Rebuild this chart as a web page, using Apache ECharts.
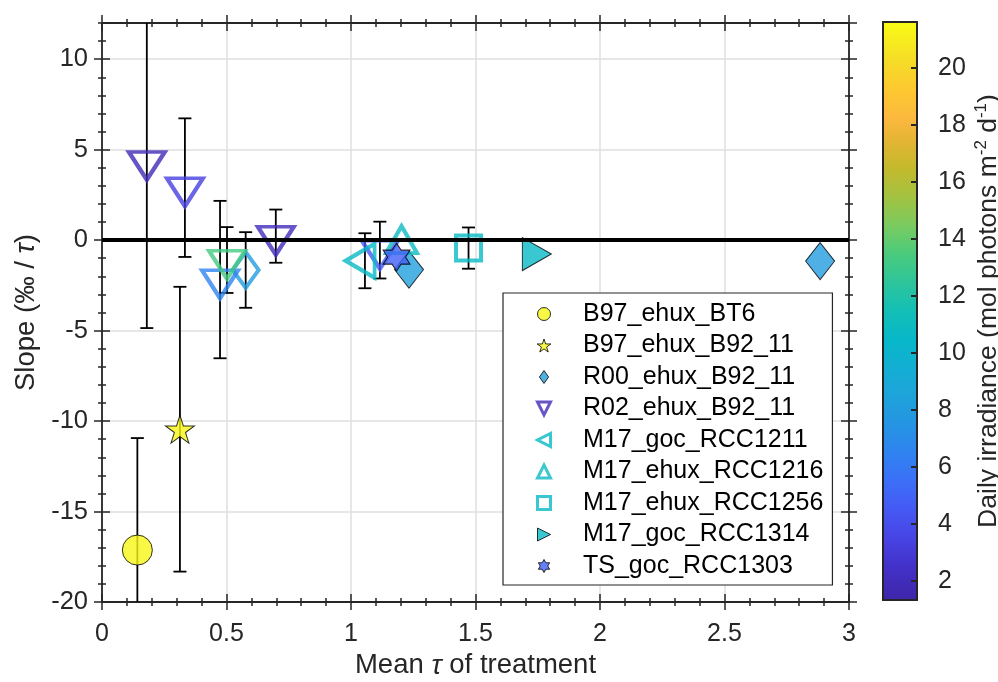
<!DOCTYPE html>
<html>
<head>
<meta charset="utf-8">
<script src="https://cdn.jsdelivr.net/npm/echarts@6/dist/echarts.min.js"></script>
<style>
  html, body { margin: 0; padding: 0; background: #fff; }
  #chart { width: 998px; height: 682px; }
</style>
</head>
<body>
<div id="chart"></div>
<script>
// ---- values ----
const seriesNames = ['B97_ehux_BT6', 'B97_ehux_B92_11', 'R00_ehux_B92_11', 'R02_ehux_B92_11',
  'M17_goc_RCC1211', 'M17_ehux_RCC1216', 'M17_ehux_RCC1256', 'M17_goc_RCC1314', 'TS_goc_RCC1303']

// one entry per point: which series, mean tau, slope, error half-width, daily irradiance, open symbol
const ptSeries = [0, 1, 2, 2, 2, 3, 3, 3, 3, 3, 3, 4, 5, 6, 7, 8]
const ptTau    = [0.142, 0.313, 0.577, 1.233, 2.884, 0.180, 0.333, 0.474, 0.502, 0.698, 1.116, 1.056, 1.203, 1.472, 1.727, 1.183]
const ptSlope  = [-17.13, -10.45, -1.65, -1.63, -1.16, 4.36, 2.90, -2.18, -1.10, 0.22, -0.55, -1.14, -0.22, -0.44, -0.77, -0.94]
const ptErr    = [6.19, 7.87, 2.09, null, null, 9.22, 3.83, 4.35, 1.82, 1.47, 1.57, 1.52, null, 1.14, null, null]
const ptIrr    = [21.4, 21.4, 8.0, 8.2, 8.0, 1.8, 3.3, 6.5, 13.3, 2.0, 4.5, 10.6, 10.8, 10.6, 10.6, 4.8]
const ptOpen   = [0, 0, 1, 0, 0, 1, 1, 1, 1, 1, 1, 1, 1, 1, 0, 0]

const xRange = [0, 3]
const yRange = [-20, 12]
const cbRange = [1.33, 21.61]
const cbTicks = [2, 4, 6, 8, 10, 12, 14, 16, 18, 20]

// parula-like colour scale sampled from the colour bar
const cmapVals = [1.33, 2.5, 3.5, 4.5, 5.5, 6.5, 7.5, 8.5, 9.5, 10.5, 11.5, 12.5, 13.5, 14.5, 15.5, 16.5, 17.5, 18.2, 19.2, 20.2, 21.61]
const cmapCols = ['#3e26a8', '#4331c9', '#4744e4', '#4559f3', '#3c6ff8', '#2f83f0', '#2595e3', '#1ea3da', '#13afd3',
  '#07b8c8', '#14bfb5', '#2ec59a', '#4bcb7c', '#7ccb5f', '#a4c240', '#c4b92c', '#e6b535', '#fbb83f', '#fdc830',
  '#f5db28', '#f9fb14']

const AX = '#262626'
const FONT = "'Liberation Sans', Arial, Helvetica, sans-serif"

function hex2rgb(h) { return [1, 3, 5].map(i => parseInt(h.slice(i, i + 2), 16)) }
function parula(v) {
  if (v <= cmapVals[0]) return cmapCols[0]
  for (let i = 1; i < cmapVals.length; i++) {
    if (v <= cmapVals[i]) {
      const t = (v - cmapVals[i - 1]) / (cmapVals[i] - cmapVals[i - 1])
      const a = hex2rgb(cmapCols[i - 1]), b = hex2rgb(cmapCols[i])
      return 'rgb(' + a.map((c, k) => Math.round(c + (b[k] - c) * t)).join(',') + ')'
    }
  }
  return cmapCols[cmapCols.length - 1]
}

// marker shapes (MATLAB triangles sit on their centroid, hence the offsets)
const STAR5 = 'path://M0,-1L0.2245,-0.309L0.951,-0.309L0.363,0.118L0.588,0.809L0,0.382L-0.588,0.809L-0.363,0.118L-0.951,-0.309L-0.2245,-0.309Z'
const HEX = 'path://M0,-1L0.289,-0.5L0.866,-0.5L0.577,0L0.866,0.5L0.289,0.5L0,1L-0.289,0.5L-0.866,0.5L-0.577,0L-0.866,-0.5L-0.289,-0.5Z'
const DOWN = 'path://M-1,-1L1,-1L0,1Z'
const UP = 'path://M0,-1L1,1L-1,1Z'
const LEFT = 'path://M1,-1L1,1L-1,0Z'
const RIGHT = 'path://M-1,-1L-1,1L1,0Z'
const DIAM = 'path://M0,-1.2L0.85,0L0,1.2L-0.85,0Z'
const SQR = 'path://M-1,-1L1,-1L1,1L-1,1Z'
const markers = [
  { symbol: 'circle', icon: 'circle', size: 30 },
  { symbol: STAR5, icon: STAR5, size: [29, 28] },
  { symbol: 'diamond', icon: DIAM, size: [29, 37], openSize: [26, 36] },
  { symbol: DOWN, icon: DOWN, size: [36, 28], offset: [0, 28 / 6] },
  { symbol: LEFT, icon: LEFT, size: [29, 34], offset: [-29 / 6, 0] },
  { symbol: UP, icon: UP, size: [31, 27], offset: [0, -27 / 6] },
  { symbol: 'rect', icon: SQR, size: 25 },
  { symbol: RIGHT, icon: RIGHT, size: [29, 33], offset: [29 / 6, 0] },
  { symbol: HEX, icon: HEX, size: [27, 28] }
]

const scatterSeries = seriesNames.map((name, s) => {
  const m = markers[s]
  const data = []
  ptSeries.forEach((ser, i) => {
    if (ser !== s) return
    const c = parula(ptIrr[i])
    const open = ptOpen[i] === 1
    const item = {
      value: [ptTau[i], ptSlope[i]],
      itemStyle: open
        ? { color: 'none', borderColor: c, borderWidth: 4, borderJoin: 'miter' }
        : { color: c, borderColor: '#000', borderWidth: 1 }
    }
    if (open && m.openSize) item.symbolSize = m.openSize
    data.push(item)
  })
  return {
    name, type: 'scatter', xAxisIndex: 0, yAxisIndex: 0, z: 3,
    symbol: m.symbol, symbolSize: m.size, symbolOffset: m.offset || [0, 0],
    data, silent: true
  }
})

const legendData = seriesNames.map((name, s) => {
  const i = ptSeries.indexOf(s)
  const c = parula(ptIrr[i])
  const open = s >= 3 && s <= 6
  return {
    name, icon: markers[s].icon,
    itemStyle: open
      ? { color: 'none', borderColor: c, borderWidth: 3, borderJoin: 'miter' }
      : { color: c, borderColor: '#000', borderWidth: 1 }
  }
})

const errData = []
ptErr.forEach((e, i) => { if (e !== null) errData.push([ptTau[i], ptSlope[i], e]) })

const gradStops = cmapVals.map((v, i) => ({ offset: (v - cbRange[0]) / (cbRange[1] - cbRange[0]), color: cmapCols[i] }))

const tickLine = { color: AX, width: 1.5 }
function xTickAxis(position, inside, showLine) {
  return {
    type: 'value', gridIndex: 0, position, min: xRange[0], max: xRange[1], interval: 0.5,
    axisLine: { show: showLine, onZero: false, lineStyle: { color: AX, width: 1.8 } },
    axisTick: { show: true, inside, length: 8, lineStyle: tickLine },
    minorTick: { show: true, splitNumber: 5, length: 4, lineStyle: tickLine },
    axisLabel: { show: false }, splitLine: { show: false }
  }
}
function yTickAxis(position, inside, major, showLine) {
  return {
    type: 'value', gridIndex: 0, position, min: yRange[0], max: yRange[1], interval: major ? 5 : 1,
    axisLine: { show: showLine, onZero: false, lineStyle: { color: AX, width: 1.8 } },
    axisTick: { show: true, inside, length: major ? 8 : 4, lineStyle: tickLine },
    axisLabel: { show: false }, splitLine: { show: false }
  }
}

const titleStyle = { color: AX, fontSize: 27.5, rich: { t: { fontSize: 27.5, fontStyle: 'italic', color: AX } } }

const xMain = xTickAxis('bottom', false, true)
xMain.axisLabel = { show: true, color: AX, fontSize: 25, margin: 20 }
xMain.splitLine = { show: true, lineStyle: { color: '#dfdfdf', width: 1.5 } }
xMain.name = 'Mean {t|τ} of treatment'
xMain.nameLocation = 'middle'
xMain.nameGap = 47
xMain.nameTextStyle = titleStyle

const yMain = yTickAxis('left', false, true, true)
yMain.axisLabel = { show: true, color: AX, fontSize: 25.5, margin: 14, showMaxLabel: false }
yMain.splitLine = { show: true, lineStyle: { color: '#dfdfdf', width: 1.5 } }
yMain.name = 'Slope (‰ / {t|τ})'
yMain.nameLocation = 'middle'
yMain.nameRotate = 90
yMain.nameGap = 62
yMain.nameTextStyle = titleStyle

const cbAxisLine = { show: true, onZero: false, lineStyle: { color: AX, width: 2 } }

const option = {
  animation: false,
  textStyle: { fontFamily: FONT },
  grid: [
    { left: 102, right: 149, top: 23, bottom: 80, outerBoundsMode: 'none', containLabel: false },
    { left: 883, width: 34, top: 22, bottom: 82, outerBoundsMode: 'none', containLabel: false }
  ],
  xAxis: [
    xMain,
    xTickAxis('bottom', true, false),
    xTickAxis('top', false, true),
    xTickAxis('top', true, false),
    { type: 'value', gridIndex: 1, position: 'bottom', min: 0, max: 1, z: 10, axisLine: cbAxisLine,
      axisTick: { show: false }, axisLabel: { show: false }, splitLine: { show: false } },
    { type: 'value', gridIndex: 1, position: 'top', min: 0, max: 1, z: 10, axisLine: cbAxisLine,
      axisTick: { show: false }, axisLabel: { show: false }, splitLine: { show: false } }
  ],
  yAxis: [
    yMain,
    yTickAxis('left', true, true, false),
    yTickAxis('left', false, false, false),
    yTickAxis('left', true, false, false),
    yTickAxis('right', false, true, true),
    yTickAxis('right', true, true, false),
    yTickAxis('right', false, false, false),
    yTickAxis('right', true, false, false),
    { type: 'value', gridIndex: 1, position: 'left', min: cbRange[0], max: cbRange[1], z: 10, axisLine: cbAxisLine,
      axisTick: { show: false }, axisLabel: { show: false }, splitLine: { show: false } },
    { type: 'value', gridIndex: 1, position: 'right', min: cbRange[0], max: cbRange[1], z: 10, axisLine: cbAxisLine,
      axisTick: { show: true, inside: true, length: 6, customValues: cbTicks, lineStyle: { color: AX, width: 2 } },
      axisLabel: { show: true, color: AX, fontSize: 25, margin: 21, customValues: cbTicks },
      splitLine: { show: false },
      name: 'Daily irradiance (mol photons m{s|-2} d{s|-1})', nameLocation: 'middle', nameRotate: 90, nameGap: 56,
      nameTextStyle: { color: AX, fontSize: 26.5, rich: { s: { fontSize: 17, color: AX, padding: [0, 0, 15, 0] } } } }
  ],
  legend: {
    orient: 'vertical', left: 503, top: 293,
    padding: [8.5, 9, 6.5, 32],
    itemWidth: 68, itemHeight: 13, itemGap: 6.5,
    backgroundColor: '#fff', borderColor: AX, borderWidth: 1.2,
    selectedMode: false,
    textStyle: { fontSize: 25, color: '#000', fontFamily: FONT },
    data: legendData
  },
  series: [
    {
      type: 'custom', xAxisIndex: 0, yAxisIndex: 0, z: 2, clip: true, silent: true,
      data: errData,
      renderItem(params, api) {
        const x = api.value(0), y = api.value(1), e = api.value(2)
        const top = api.coord([x, y + e]), bot = api.coord([x, y - e])
        const style = { stroke: '#000', lineWidth: 1.8 }
        return {
          type: 'group', children: [
            { type: 'line', shape: { x1: top[0], y1: top[1], x2: bot[0], y2: bot[1] }, style },
            { type: 'line', shape: { x1: top[0] - 6.5, y1: top[1], x2: top[0] + 6.5, y2: top[1] }, style },
            { type: 'line', shape: { x1: bot[0] - 6.5, y1: bot[1], x2: bot[0] + 6.5, y2: bot[1] }, style }
          ]
        }
      },
      markLine: {
        silent: true, symbol: 'none', label: { show: false },
        lineStyle: { color: '#000', width: 3.8, type: 'solid' },
        data: [{ yAxis: 0 }]
      }
    },
    ...scatterSeries,
    {
      type: 'custom', xAxisIndex: 4, yAxisIndex: 8, silent: true,
      data: [[cbRange[0], cbRange[1]]],
      renderItem(params, api) {
        const p0 = api.coord([0, api.value(1)])
        const p1 = api.coord([1, api.value(0)])
        return {
          type: 'rect',
          shape: { x: p0[0], y: p0[1], width: p1[0] - p0[0], height: p1[1] - p0[1] },
          style: { fill: new echarts.graphic.LinearGradient(0, 1, 0, 0, gradStops) }
        }
      }
    }
  ]
}

const chart = echarts.init(document.getElementById('chart'))
chart.setOption(option)
</script>
</body>
</html>
